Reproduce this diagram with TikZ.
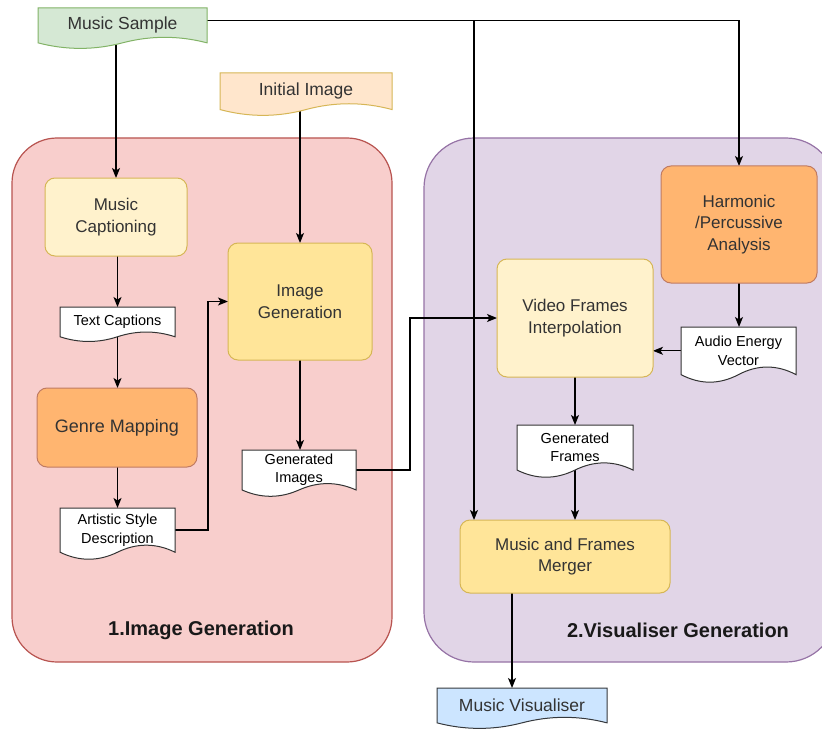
\documentclass[tikz,border=0pt]{standalone}
\usepackage{fontspec}
\setmainfont{Liberation Sans}
\usetikzlibrary{calc,arrows.meta}
\pgfdeclarelayer{back}
\pgfdeclarelayer{edges}
\pgfdeclarelayer{docs}
\pgfsetlayers{back,edges,docs,main}
\definecolor{msfill}{HTML}{D5E8D4}
\definecolor{msdraw}{HTML}{82B366}
\definecolor{iifill}{HTML}{FFE6CC}
\definecolor{ydraw}{HTML}{D6B656}
\definecolor{pinkfill}{HTML}{F8CECC}
\definecolor{pinkdraw}{HTML}{B85450}
\definecolor{purfill}{HTML}{E1D5E7}
\definecolor{purdraw}{HTML}{9673A6}
\definecolor{paley}{HTML}{FFF2CC}
\definecolor{yel}{HTML}{FFE599}
\definecolor{orfill}{HTML}{FFB570}
\definecolor{ordraw}{HTML}{C07B62}
\definecolor{blfill}{HTML}{CCE5FF}
\definecolor{bldraw}{HTML}{36393D}
\definecolor{txt}{HTML}{333333}
\newcommand{\docnode}[8]{%
 \pgfmathsetmacro\dw{#4-#2}%
 \pgfmathsetmacro\dh{#5-#3}%
 \pgfmathsetmacro\dhh{0.85*\dh}%
 \begin{pgfonlayer}{docs}
 \path[line width=1pt,#6] (#2,#3) -- (#4,#3) -- (#4,{#3+0.85*\dh})
   .. controls ({#2+0.8333*\dw},{#3+0.67*\dh}) and ({#2+0.6667*\dw},{#3+0.67*\dh}) .. ({#2+0.5*\dw},{#3+0.85*\dh})
   .. controls ({#2+0.3333*\dw},{#3+1.03*\dh}) and ({#2+0.1667*\dw},{#3+1.03*\dh}) .. (#2,{#3+0.85*\dh}) -- cycle;
 \end{pgfonlayer}
 \node[inner sep=0pt, outer sep=0pt, align=center, minimum width=\dw pt, minimum height=\dhh pt, #8] (#1) at ({(#2+#4)/2},{#3+0.425*\dh}) {#7};
}
\begin{document}
\begin{tikzpicture}[x=1pt,y=-1pt,
  rbox/.style={draw, rounded corners=10pt, line width=1pt, align=center, inner sep=2pt, outer sep=0pt, text=txt, font=\fontsize{17}{21.5}\selectfont},
  bigdoc/.style={text=txt, font=\fontsize{17.5}{21}\selectfont},
  smalldoc/.style={text=black, font=\fontsize{14.5}{18.5}\selectfont},
  container/.style={line width=1.2pt, rounded corners=45pt},
  title/.style={font=\bfseries\fontsize{20}{24}\selectfont, text=black!90},
  arr/.style={line width=1.3pt, -{Stealth[length=10pt,width=8pt,inset=2.5pt]}}
]
\useasboundingbox (0,0) rectangle (822,733);

% containers
\begin{pgfonlayer}{back}
\fill[white] (0,0) rectangle (822,733);
\path[container, fill=pinkfill, draw=pinkdraw] (12,138) rectangle (392,662);
\path[container, rounded corners=50pt, fill=purfill, draw=purdraw] (424,138) rectangle (836,662);
\end{pgfonlayer}
\node[title] (t1) at (201,630) {1.Image Generation};
\node[title] (t2) at (678,630) {2.Visualiser Generation};

% documents
\docnode{ms}{38}{8}{207}{49}{fill=msfill,draw=msdraw}{Music Sample}{bigdoc}
\docnode{ii}{220}{73}{392}{116}{fill=iifill,draw=ydraw}{Initial Image}{bigdoc}
\docnode{tc}{60}{307}{175}{342}{fill=white,draw=black!80}{Text Captions}{smalldoc}
\docnode{asd}{60}{508}{175}{560}{fill=white,draw=black!80}{Artistic Style\\Description}{smalldoc}
\docnode{gi}{242}{450}{356}{497}{fill=white,draw=black!80}{Generated\\Images}{smalldoc}
\docnode{aev}{681}{327}{796}{383}{fill=white,draw=black!80}{Audio Energy\\Vector}{smalldoc}
\docnode{gf}{517}{425}{633}{478}{fill=white,draw=black!80}{Generated\\Frames}{smalldoc}
\docnode{mv}{437}{688}{607}{729}{fill=blfill,draw=bldraw}{Music Visualiser}{bigdoc}

% rounded boxes
\node[rbox, fill=paley, draw=ydraw, minimum width=142pt, minimum height=78pt] (mc) at (116,217) {Music\\Captioning};
\node[rbox, fill=orfill, draw=ordraw, minimum width=160pt, minimum height=79pt, font=\fontsize{18}{21}\selectfont] (gm) at (117,427.5) {Genre Mapping};
\node[rbox, fill=yel, draw=ydraw, minimum width=144pt, minimum height=117pt] (ig) at (300,301.5) {Image\\Generation};
\node[rbox, fill=paley, draw=ydraw, minimum width=156pt, minimum height=118pt] (vfi) at (575,318) {Video Frames\\Interpolation};
\node[rbox, fill=orfill, draw=ordraw, minimum width=156pt, minimum height=117pt] (hp) at (739,224.5) {Harmonic\\/Percussive\\Analysis};
\node[rbox, fill=yel, draw=ydraw, minimum width=210pt, minimum height=73pt] (mfm) at (565,556.5) {Music and Frames\\Merger};

% connectors
\begin{pgfonlayer}{edges}
\coordinate (tap) at (474,20.5);
\draw[arr] (ms.south -| mc.north) -- (mc.north);
\draw[arr] ([yshift=5pt]ms.east) -| (hp.north);
\draw[arr] (tap) -- (tap |- mfm.north);
\draw[arr] (ii.south -| ig.north) -- (ig.north);
\draw[arr] (mc.south -| tc.north) -- (tc.north);
\draw[arr] (tc.south) -- (tc.south |- gm.north);
\draw[arr] (gm.south -| asd.north) -- (asd.north);
\draw[arr] (asd.east) -- ++(33,0) |- (ig.west);
\draw[arr] (ig.south) -- (ig.south |- gi.north);
\draw[arr] (gi.east) -- ++(54,0) |- (vfi.west);
\draw[arr] (hp.south) -- (hp.south |- aev.north);
\draw[arr] (aev.west) -- (aev.west -| vfi.east);
\draw[arr] (vfi.south) -- (vfi.south |- gf.north);
\draw[arr] (gf.south) -- (gf.south |- mfm.north);
\draw[arr] ($(mfm.south)+(-53,0)$) coordinate (mo) -- (mo |- mv.north);
\end{pgfonlayer}
\end{tikzpicture}
\end{document}
